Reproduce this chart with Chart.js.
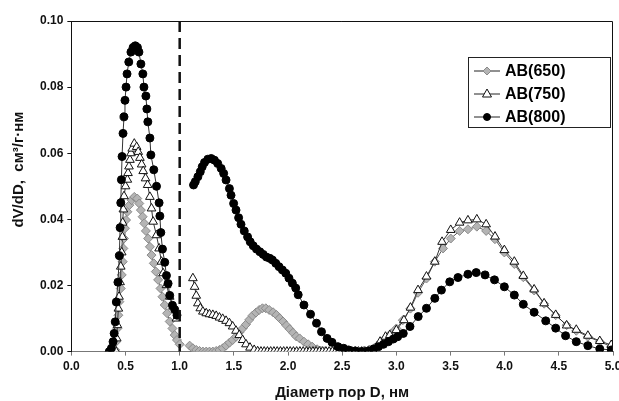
<!DOCTYPE html>
<html>
<head>
<meta charset="utf-8">
<script src="https://cdn.jsdelivr.net/npm/chart.js@4/dist/chart.umd.min.js"></script>
<style>
  html, body { margin: 0; padding: 0; background: #fff; }
  #wrap { width: 619px; height: 401px; }
</style>
</head>
<body>
<div id="wrap"><canvas id="chart"></canvas></div>
<script>
// AB(650) - diamonds (null = break between the two measuring ranges)
const x650 = [0.38, 0.404, 0.413, 0.425, 0.434, 0.443, 0.456, 0.465, 0.474, 0.48, 0.486, 0.495, 0.505, 0.517, 0.535, 0.557, 0.581,
  0.608, 0.627, 0.642, 0.658, 0.673, 0.688, 0.709, 0.725, 0.74, 0.761, 0.78, 0.801, 0.823, 0.841, 0.862, 0.884, 0.908, 0.933, 0.954, 0.975, 1.0,
  1.05,
  1.092, 1.122, 1.153, 1.183, 1.214, 1.245, 1.275, 1.306, 1.337, 1.367, 1.397, 1.428, 1.459, 1.489, 1.52, 1.55, 1.581, 1.612, 1.642, 1.673,
  1.704, 1.734, 1.764, 1.795, 1.826, 1.862, 1.893, 1.923, 1.954, 1.985, 2.016, 2.046, 2.076, 2.107, 2.147, 2.186, 2.223, 2.269, 2.30, 2.34,
  2.38, 2.42, 2.46, 2.50, 2.54, 2.58, 2.62, 2.66, 2.70, 2.75, 2.80, 2.85, 2.90, 2.95, 3.0, 3.06, 3.13, 3.2, 3.278, 3.355, 3.431, 3.502,
  3.584, 3.661, 3.743, 3.829, 3.91, 3.997, 4.089, 4.172, 4.272, 4.364, 4.471, 4.572, 4.661, 4.768, 4.878, 4.984];
const y650 = [0, 0.0005, 0.003, 0.007, 0.011, 0.0151, 0.0191, 0.0232, 0.0272, 0.0312, 0.0342, 0.0373, 0.0398, 0.0423, 0.0443, 0.0458, 0.0468,
  0.0463, 0.0448, 0.0428, 0.0408, 0.0388, 0.0365, 0.0342, 0.0317, 0.0292, 0.0267, 0.0242, 0.0217, 0.0191, 0.0166, 0.0141, 0.0116, 0.0091, 0.007, 0.005, 0.0035, 0.0022,
  null,
  0.0018, 0.001, 0.0005, 0.0002, 0, 0, 0, 0, 0.0002, 0.0005, 0.001, 0.0018, 0.0027, 0.0035, 0.0045, 0.0058, 0.007, 0.0082, 0.0096, 0.0109,
  0.0118, 0.0126, 0.0131, 0.0131, 0.0126, 0.0119, 0.0111, 0.0101, 0.0091, 0.0079, 0.0068, 0.0057, 0.0046, 0.004, 0.003, 0.0022, 0.0015, 0.0007, 0.0003, 0.0001,
  0, 0, 0, 0, 0, 0, 0, 0, 0.0002, 0.0006, 0.0012, 0.0025, 0.004, 0.0055, 0.007, 0.0095, 0.013, 0.0178, 0.0221, 0.0272, 0.0312, 0.0342,
  0.0365, 0.037, 0.0378, 0.0365, 0.034, 0.030, 0.0265, 0.0225, 0.0185, 0.0145, 0.011, 0.008, 0.0063, 0.0045, 0.003, 0.0015];

// AB(750) - open triangles
const x750 = [0.39, 0.404, 0.419, 0.425, 0.434, 0.44, 0.45, 0.456, 0.465, 0.471, 0.474, 0.48, 0.486, 0.50, 0.517, 0.523, 0.532, 0.541, 0.55,
  0.562, 0.581, 0.603, 0.617, 0.633, 0.649, 0.663, 0.685, 0.704, 0.725, 0.74, 0.755, 0.786, 0.81, 0.832, 0.847, 0.878, 0.908, 0.939, 0.97,
  1.05,
  1.122, 1.138, 1.153, 1.168, 1.19, 1.214, 1.245, 1.275, 1.306, 1.337, 1.367, 1.397, 1.428, 1.459, 1.489, 1.52, 1.55, 1.581, 1.612, 1.649,
  1.688, 1.72, 1.75, 1.78, 1.81, 1.84, 1.87, 1.90, 1.93, 1.96, 1.99, 2.02, 2.05, 2.08, 2.11, 2.14, 2.17, 2.20, 2.23, 2.26, 2.29, 2.32,
  2.35, 2.38, 2.41, 2.44, 2.47, 2.50, 2.53, 2.56, 2.59, 2.62, 2.65, 2.68, 2.71, 2.74, 2.78, 2.82, 2.85, 2.90, 2.94, 3.0, 3.07, 3.13, 3.2,
  3.278, 3.355, 3.422, 3.502, 3.584, 3.661, 3.743, 3.829, 3.911, 3.997, 4.089, 4.172, 4.272, 4.364, 4.471, 4.572, 4.661, 4.768, 4.878, 4.984];
const y750 = [0, 0.0005, 0.004, 0.008, 0.013, 0.0166, 0.021, 0.0257, 0.030, 0.0347, 0.039, 0.043, 0.047, 0.050, 0.052, 0.054, 0.056, 0.058, 0.060,
  0.0614, 0.0629, 0.0619, 0.0604, 0.0586, 0.0566, 0.0546, 0.0524, 0.0504, 0.0468, 0.0433, 0.0393, 0.0352, 0.0312, 0.0272, 0.0237, 0.0201, 0.0166, 0.0136, 0.010,
  null,
  0.0222, 0.0196, 0.0169, 0.0146, 0.0131, 0.0121, 0.0116, 0.0113, 0.0111, 0.0108, 0.0103, 0.0099, 0.0093, 0.0086, 0.0076, 0.0063, 0.005, 0.0035, 0.0022, 0.0012,
  0.0005, 0.0001, 0, 0, 0, 0, 0, 0, 0, 0, 0, 0, 0, 0, 0, 0, 0, 0, 0, 0, 0, 0,
  0, 0, 0, 0, 0, 0, 0, 0, 0, 0, 0, 0, 0, 0, 0.0005, 0.0015, 0.003, 0.0045, 0.005, 0.0065, 0.0095, 0.0133, 0.0186,
  0.0227, 0.0272, 0.0332, 0.0368, 0.039, 0.0397, 0.040, 0.0385, 0.0348, 0.0307, 0.0272, 0.0229, 0.0188, 0.0146, 0.0111, 0.0079, 0.0066, 0.0048, 0.0032, 0.002];

// AB(800) - filled circles
const x800 = [0.35, 0.37, 0.385, 0.395, 0.405, 0.415, 0.43, 0.443, 0.45, 0.456, 0.462, 0.468, 0.477, 0.486, 0.495, 0.505, 0.514, 0.53, 0.55,
  0.57, 0.59, 0.61, 0.624, 0.642, 0.66, 0.67, 0.688, 0.697, 0.706, 0.725, 0.734, 0.761, 0.786, 0.81, 0.817, 0.826, 0.841, 0.862, 0.878,
  0.893, 0.908, 0.933, 0.954, 0.975,
  1.05,
  1.128, 1.144, 1.168, 1.19, 1.208, 1.229, 1.26, 1.291, 1.321, 1.351, 1.383, 1.406, 1.428, 1.459, 1.474, 1.498, 1.52, 1.544, 1.566, 1.596,
  1.627, 1.651, 1.679, 1.709, 1.74, 1.771, 1.801, 1.832, 1.856, 1.887, 1.917, 1.948, 1.979, 2.009, 2.04, 2.071, 2.094, 2.147, 2.208, 2.263,
  2.309, 2.361, 2.406, 2.461, 2.514, 2.56, 2.621, 2.682, 2.743, 2.789, 2.835, 2.881, 2.927, 2.972, 3.012, 3.064, 3.126, 3.202, 3.278, 3.355,
  3.416, 3.493, 3.569, 3.661, 3.737, 3.819, 3.906, 3.997, 4.089, 4.172, 4.272, 4.379, 4.471, 4.562, 4.661, 4.768, 4.878, 4.984];
const y800 = [0, 0.001, 0.003, 0.0055, 0.009, 0.015, 0.021, 0.029, 0.0375, 0.045, 0.052, 0.059, 0.066, 0.071, 0.076, 0.080, 0.084, 0.0876, 0.0906,
  0.092, 0.0925, 0.092, 0.0906, 0.087, 0.084, 0.080, 0.0773, 0.0734, 0.0695, 0.0646, 0.0595, 0.055, 0.050, 0.045, 0.041, 0.036, 0.031, 0.027, 0.023,
  0.0206, 0.017, 0.014, 0.0127, 0.011,
  null,
  0.0504, 0.0514, 0.0529, 0.0544, 0.0559, 0.0572, 0.0582, 0.0584, 0.0579, 0.0569, 0.0554, 0.0539, 0.0519, 0.0493, 0.0473, 0.0448, 0.0428, 0.0405, 0.0385, 0.0365,
  0.0347, 0.0332, 0.032, 0.031, 0.0302, 0.0294, 0.0286, 0.0282, 0.0277, 0.0267, 0.0257, 0.0247, 0.0237, 0.0222, 0.0207, 0.0192, 0.0172, 0.0141, 0.0113, 0.0086,
  0.006, 0.004, 0.0028, 0.0015, 0.001, 0.0005, 0.0002, 0, 0.0002, 0.0008, 0.0015, 0.0022, 0.003, 0.0038, 0.0045, 0.0055, 0.0076, 0.0106, 0.0131, 0.0161,
  0.0186, 0.0211, 0.0224, 0.0234, 0.0239, 0.0232, 0.0217, 0.0196, 0.0171, 0.0143, 0.0119, 0.0093, 0.0071, 0.0048, 0.003, 0.0018, 0.0008, 0.0005];

const seriesNames = ['AB(650)', 'AB(750)', 'AB(800)'];
const xTicks = [0, 0.5, 1, 1.5, 2, 2.5, 3, 3.5, 4, 4.5, 5];
const yTicks = [0, 0.02, 0.04, 0.06, 0.08, 0.1];
const splitAt = 1.0; // dashed separator

const FONT = '"Liberation Sans", Arial, sans-serif';
const pts = (xs, ys) => xs.map((x, i) => ({ x: x, y: ys[i] }));

// frame on top/right, dashed line at 1 nm, legend inside plot
const decor = {
  id: 'decor',
  afterDatasetsDraw(chart) {
    const { ctx, chartArea: a, scales } = chart;
    ctx.save();
    ctx.strokeStyle = '#111';
    ctx.lineWidth = 1;
    ctx.beginPath();
    ctx.moveTo(a.left, a.top + 0.5);
    ctx.lineTo(a.right - 0.5, a.top + 0.5);
    ctx.lineTo(a.right - 0.5, a.bottom);
    ctx.stroke();

    const xs = scales.x.getPixelForValue(splitAt);
    ctx.lineWidth = 2.5;
    ctx.setLineDash([11, 6]);
    ctx.beginPath();
    ctx.moveTo(xs, a.top);
    ctx.lineTo(xs, a.bottom);
    ctx.stroke();
    ctx.setLineDash([]);

    // legend
    const bx = 468, by = 57, bw = 142, bh = 70;
    ctx.fillStyle = '#fff';
    ctx.fillRect(bx, by, bw, bh);
    ctx.lineWidth = 1;
    ctx.strokeStyle = '#222';
    ctx.strokeRect(bx + 0.5, by + 0.5, bw, bh);
    chart.data.datasets.forEach((ds, i) => {
      const yy = by + 14 + i * 23;
      ctx.strokeStyle = '#222';
      ctx.lineWidth = 1;
      ctx.beginPath();
      ctx.moveTo(bx + 6, yy);
      ctx.lineTo(bx + 32, yy);
      ctx.stroke();
      const cx = bx + 19;
      ctx.fillStyle = ds.pointBackgroundColor;
      ctx.strokeStyle = ds.pointBorderColor;
      ctx.beginPath();
      if (ds.pointStyle === 'circle') {
        ctx.arc(cx, yy, 3.5, 0, Math.PI * 2);
      } else if (ds.pointStyle === 'triangle') {
        ctx.moveTo(cx, yy - 5);
        ctx.lineTo(cx + 4.5, yy + 3);
        ctx.lineTo(cx - 4.5, yy + 3);
        ctx.closePath();
      } else {
        ctx.moveTo(cx, yy - 4);
        ctx.lineTo(cx + 4, yy);
        ctx.lineTo(cx, yy + 4);
        ctx.lineTo(cx - 4, yy);
        ctx.closePath();
      }
      ctx.fill();
      ctx.stroke();
      ctx.fillStyle = '#000';
      ctx.font = 'bold 16px ' + FONT;
      ctx.textBaseline = 'middle';
      ctx.fillText(ds.label, bx + 37, yy + 1);
    });
    ctx.restore();
  }
};

new Chart(document.getElementById('chart'), {
  type: 'line',
  data: {
    datasets: [
      {
        label: seriesNames[0],
        data: pts(x650, y650),
        borderColor: '#555',
        borderWidth: 1,
        pointStyle: 'rectRot',
        pointRadius: 4.5,
        pointBackgroundColor: '#b4b4b4',
        pointBorderColor: '#8a8a8a',
        pointBorderWidth: 1,
        order: 3,
      },
      {
        label: seriesNames[1],
        data: pts(x750, y750),
        borderColor: '#333',
        borderWidth: 1,
        pointStyle: 'triangle',
        pointRadius: 5,
        pointBackgroundColor: '#fff',
        pointBorderColor: '#111',
        pointBorderWidth: 1,
        order: 2,
      },
      {
        label: seriesNames[2],
        data: pts(x800, y800),
        borderColor: '#333',
        borderWidth: 1,
        pointStyle: 'circle',
        pointRadius: 4,
        pointBackgroundColor: '#000',
        pointBorderColor: '#000',
        pointBorderWidth: 1,
        order: 1,
      },
    ],
  },
  options: {
    responsive: true,
    maintainAspectRatio: false,
    animation: false,
    spanGaps: false,
    layout: { padding: { left: 10, top: 21, right: 1, bottom: -1 } },
    plugins: { legend: { display: false }, tooltip: { enabled: false } },
    scales: {
      x: {
        type: 'linear',
        min: 0,
        max: 5,
        afterBuildTicks: axis => { axis.ticks = xTicks.map(v => ({ value: v })); },
        afterFit: axis => { axis.paddingRight = 0; },
        ticks: {
          callback: v => v.toFixed(1),
          color: '#111',
          font: { family: FONT, size: 12, weight: 'bold' },
          padding: 4,
          maxRotation: 0,
        },
        grid: { drawOnChartArea: false, tickLength: 4, color: '#777' },
        border: { color: '#777', width: 1 },
        title: {
          display: true,
          text: 'Діаметр пор D, нм',
          color: '#111',
          font: { family: FONT, size: 15, weight: 'bold' },
          padding: { top: 6, bottom: 0 },
        },
      },
      y: {
        min: 0,
        max: 0.1,
        afterBuildTicks: axis => { axis.ticks = yTicks.map(v => ({ value: v })); },
        ticks: {
          callback: v => v.toFixed(2),
          color: '#111',
          font: { family: FONT, size: 12, weight: 'bold' },
          padding: 4,
        },
        grid: { drawOnChartArea: false, tickLength: 4, color: '#111' },
        border: { color: '#111', width: 1 },
        title: {
          display: true,
          text: '        dV/dD,  см³/г·нм',
          color: '#111',
          font: { family: FONT, size: 15, weight: 'bold' },
          padding: { top: 0, bottom: 8 },
        },
      },
    },
  },
  plugins: [decor],
});
</script>
</body>
</html>
